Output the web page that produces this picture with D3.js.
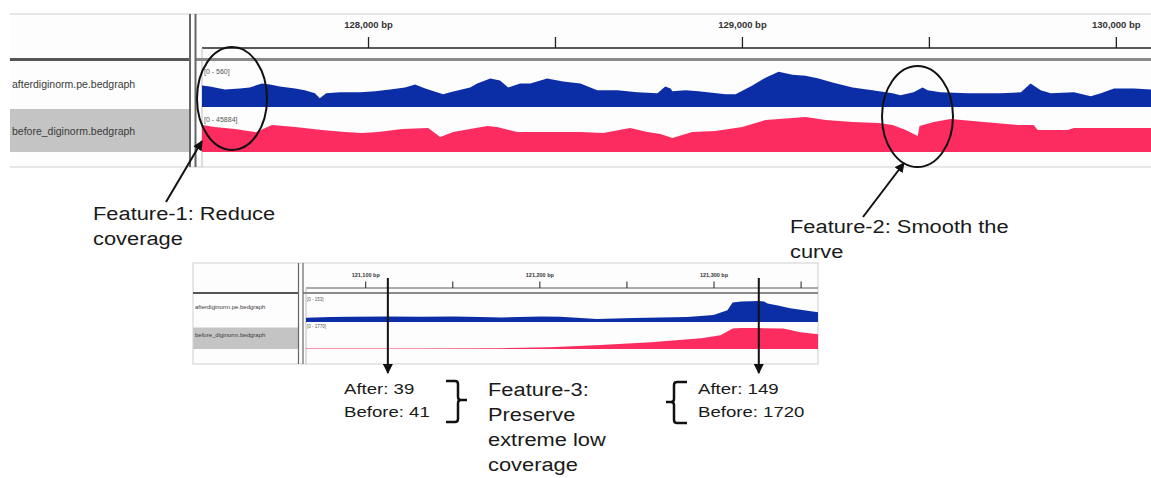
<!DOCTYPE html>
<html>
<head>
<meta charset="utf-8">
<script src="https://cdn.jsdelivr.net/npm/d3@7"></script>
<style>
  body { margin: 0; background: #fff; }
  svg { display: block; font-family: "Liberation Sans", Arial, sans-serif; }
</style>
</head>
<body>
<svg id="chart" width="1151" height="478"></svg>
<script>
// ---- data: [bp, coverage] ----
const trackNames = ['afterdiginorm.pe.bedgraph', 'before_diginorm.bedgraph'];

const topDomain = [127556, 130094];
const topTicks = [128000, 128500, 129000, 129500, 130000];
const topRanges = [560, 45884];
const afterTop = [
  [127556, 262], [127577, 250], [127617, 214], [127657, 226], [127684, 238], [127716, 286],
  [127738, 274], [127764, 250], [127805, 226], [127831, 203], [127858, 167], [127871, 107],
  [127888, 167], [127925, 179], [127979, 179], [128019, 191], [128059, 214], [128099, 238],
  [128126, 274], [128153, 226], [128201, 155], [128220, 179], [128273, 238], [128292, 286],
  [128327, 346], [128353, 322], [128375, 238], [128407, 286], [128434, 286], [128479, 346],
  [128522, 310], [128568, 286], [128613, 203], [128667, 203], [128720, 179], [128774, 167],
  [128795, 250], [128809, 226], [128814, 191], [128849, 203], [128884, 191], [128956, 155],
  [128983, 155], [129028, 262], [129063, 357], [129098, 429], [129135, 393], [129170, 381],
  [129205, 346], [129242, 298], [129296, 238], [129349, 203], [129403, 167], [129424, 143],
  [129459, 179], [129483, 238], [129497, 203], [129531, 179], [129604, 167], [129692, 167],
  [129746, 179], [129772, 286], [129799, 203], [129826, 167], [129888, 179], [129933, 131],
  [129960, 167], [129995, 226], [130048, 226], [130094, 214]
];
const beforeTop = [
  [127556, 28809], [127590, 26675], [127644, 24541], [127697, 21340], [127700, 21000],
  [127743, 28809], [127805, 26675], [127877, 23474], [127938, 21340], [127984, 20273],
  [128027, 21340], [128091, 24541], [128161, 25608], [128193, 16005], [128228, 21340],
  [128273, 24541], [128319, 27742], [128345, 26675], [128399, 21340], [128479, 21340],
  [128568, 21340], [128629, 20273], [128701, 25608], [128747, 21340], [128782, 19206],
  [128814, 14938], [128867, 21340], [128929, 22407], [129001, 26675], [129063, 34144],
  [129135, 36278], [129170, 37345], [129224, 34144], [129296, 32010], [129365, 30943],
  [129403, 28809], [129438, 23474], [129470, 17072], [129475, 27742], [129513, 32010],
  [129558, 35211], [129647, 32010], [129738, 28809], [129780, 28809], [129791, 23474],
  [129871, 23474], [129888, 25608], [129960, 25608], [130094, 25608]
];

const smallDomain = [121066, 121360];
const smallTicks = [121100, 121150, 121200, 121250, 121300, 121350];
const smallRanges = [153, 1770];
const afterSmall = [
  [121066, 30], [121080, 36], [121091, 38], [121113, 39], [121132, 37], [121151, 40],
  [121166, 35], [121178, 32], [121201, 40], [121212, 38], [121233, 22], [121254, 28],
  [121285, 35], [121300, 49], [121308, 83], [121311, 139], [121316, 146], [121326, 149],
  [121329, 146], [121331, 132], [121337, 118], [121344, 97], [121360, 70]
];
const beforeSmall = [
  [121066, 41], [121091, 41], [121113, 41], [121132, 41], [121178, 60], [121206, 150],
  [121235, 320], [121264, 560], [121293, 885], [121304, 1127], [121311, 1690], [121316, 1720],
  [121326, 1720], [121340, 1690], [121350, 1370], [121360, 1210]
];

const arrowMarks = [121113, 121326]; // After 39 / Before 41, After 149 / Before 1720

const BLUE = '#0b2ea6';
const PINK = '#fc2c61';

const svg = d3.select('#chart');
const defs = svg.append('defs');
defs.append('marker')
  .attr('id', 'head')
  .attr('viewBox', '0 0 10 10')
  .attr('refX', 9).attr('refY', 5)
  .attr('markerWidth', 5).attr('markerHeight', 5)
  .attr('orient', 'auto')
  .append('path').attr('d', 'M0,0L10,5L0,10z').attr('fill', '#111');

/**
 * Draws one IGV-like browser view (name panel, ruler, two bedgraph tracks)
 */
function igvPanel(p) {
  const g = svg.append('g');
  const x = d3.scaleLinear().domain(p.domain).range([p.dataLeft, p.right]);

  // backgrounds
  g.append('rect').attr('x', p.left).attr('y', p.top)
    .attr('width', p.right - p.left).attr('height', p.bottom - p.top).attr('fill', '#fdfdfd');
  g.append('rect').attr('x', p.left).attr('y', p.tracks[1].top - p.gap)
    .attr('width', p.nameRight - p.left).attr('height', p.tracks[1].base - p.tracks[1].top + p.gap)
    .attr('fill', '#c4c4c4');

  // frame
  if (p.box) {
    g.append('rect').attr('x', p.left).attr('y', p.top)
      .attr('width', p.right - p.left).attr('height', p.bottom - p.top)
      .attr('fill', 'none').attr('stroke', '#cfcfcf');
  } else {
    [p.top, p.bottom].forEach(yy => {
      g.append('line').attr('x1', p.left).attr('x2', p.right).attr('y1', yy).attr('y2', yy)
        .attr('stroke', '#cfcfcf').attr('stroke-width', 1.2);
    });
  }

  // ruler
  g.append('line').attr('x1', p.dataLeft).attr('x2', p.right)
    .attr('y1', p.rulerY).attr('y2', p.rulerY)
    .attr('stroke', '#5a5a5a').attr('stroke-width', p.rulerW);
  g.append('line').attr('x1', p.dataLeft).attr('x2', p.dataLeft)
    .attr('y1', p.rulerY).attr('y2', p.bottom).attr('stroke', '#bdbdbd');

  const fmt = d3.format(',');
  const axis = d3.axisTop(x).tickValues(p.ticks)
    .tickSize(p.tickLen).tickSizeOuter(0).tickPadding(p.tickPad)
    .tickFormat(d => d % p.labelEvery === 0 ? fmt(d) + ' bp' : '');
  const axg = g.append('g').attr('transform', `translate(0,${p.rulerY})`).call(axis);
  axg.select('.domain').remove();
  axg.attr('font-family', null).attr('font-size', null);
  axg.selectAll('line').attr('stroke', '#222').attr('stroke-width', p.tickW);
  axg.selectAll('text').attr('font-size', p.tickFont).attr('font-weight', 'bold').attr('fill', '#333');

  // header separator
  g.append('line').attr('x1', p.left).attr('x2', p.nameRight)
    .attr('y1', p.header).attr('y2', p.header).attr('stroke', '#555').attr('stroke-width', p.headerW);
  g.append('line').attr('x1', p.div2).attr('x2', p.right)
    .attr('y1', p.header).attr('y2', p.header).attr('stroke', '#8a8a8a').attr('stroke-width', p.headerW);

  // dividers between name panel and data panel
  [p.nameRight, p.div2].forEach(xx => {
    g.append('line').attr('x1', xx).attr('x2', xx).attr('y1', p.top).attr('y2', p.bottom)
      .attr('stroke', '#666').attr('stroke-width', p.divW);
  });

  // tracks
  const series = [p.after, p.before];
  const colors = [BLUE, PINK];
  series.forEach((data, i) => {
    const t = p.tracks[i];
    const y = d3.scaleLinear().domain([0, p.ranges[i]]).range([t.base, t.top]);
    const area = d3.area().x(d => x(d[0])).y0(t.base).y1(d => y(d[1]));
    g.append('path').datum(data).attr('d', area).attr('fill', colors[i]);
    g.append('text').attr('x', p.dataLeft + p.rangeDx).attr('y', t.top + p.rangeDy)
      .attr('font-size', p.rangeFont).attr('fill', '#555').text('[0 - ' + p.ranges[i] + ']');
    g.append('text').attr('x', p.left + p.nameDx).attr('y', p.nameY[i])
      .attr('font-size', p.nameFont).attr('fill', '#3a3a3a').text(trackNames[i]);
  });
  return x;
}

igvPanel({
  domain: topDomain, ticks: topTicks, labelEvery: 1000, ranges: topRanges,
  after: afterTop, before: beforeTop,
  left: 10, right: 1151, top: 14, bottom: 167, box: false,
  nameRight: 190, div2: 195.5, dataLeft: 202,
  rulerY: 48, rulerW: 2, tickLen: 11, tickPad: 9, tickW: 1.3, tickFont: 9.5,
  header: 59.5, headerW: 3, divW: 2,
  tracks: [{ top: 61, base: 107 }, { top: 109, base: 152 }], gap: 0,
  rangeFont: 7, rangeDx: 2, rangeDy: 13,
  nameFont: 10.5, nameDx: 2, nameY: [88, 135]
});

const xs = igvPanel({
  domain: smallDomain, ticks: smallTicks, labelEvery: 100, ranges: smallRanges,
  after: afterSmall, before: beforeSmall,
  left: 193, right: 818, top: 263, bottom: 364, box: true,
  nameRight: 298.5, div2: 303, dataLeft: 306,
  rulerY: 288, rulerW: 1, tickLen: 6.5, tickPad: 4.5, tickW: 1, tickFont: 5.5,
  header: 293, headerW: 2, divW: 1.2,
  tracks: [{ top: 300.5, base: 322 }, { top: 327.5, base: 349 }], gap: 0,
  rangeFont: 4.5, rangeDx: 1, rangeDy: 0.5,
  nameFont: 6, nameDx: 2, nameY: [309, 337]
});

// ---- annotations ----
const ann = svg.append('g').attr('fill', 'none').attr('stroke', '#111');
ann.append('ellipse').attr('cx', 232).attr('cy', 98.5).attr('rx', 35).attr('ry', 51.5).attr('stroke-width', 2);
ann.append('ellipse').attr('cx', 917.5).attr('cy', 116.5).attr('rx', 35.5).attr('ry', 50.5).attr('stroke-width', 2);

ann.append('line').attr('x1', 166).attr('y1', 202).attr('x2', 202).attr('y2', 141)
  .attr('stroke-width', 2).attr('marker-end', 'url(#head)');
ann.append('line').attr('x1', 863).attr('y1', 217).attr('x2', 904).attr('y2', 163)
  .attr('stroke-width', 2).attr('marker-end', 'url(#head)');

arrowMarks.forEach(bp => {
  ann.append('line').attr('x1', xs(bp)).attr('x2', xs(bp)).attr('y1', 278).attr('y2', 373)
    .attr('stroke-width', 2).attr('marker-end', 'url(#head)');
});

// braces
ann.append('path').attr('stroke-width', 2.5)
  .attr('d', 'M446,381 L455,381 Q458,381 458,384 L458,397 Q458,400 461,400 L467,400 M461,400 Q458,400 458,403 L458,419 Q458,422 455,422 L446,422');
ann.append('path').attr('stroke-width', 2.5)
  .attr('d', 'M687,382 L677,382 Q674,382 674,385 L674,399 Q674,402 671,402 L666,402 M671,402 Q674,402 674,405 L674,420 Q674,423 677,423 L687,423');

function label(x0, y0, lines, size, lh, sx) {
  const t = svg.append('text')
    .attr('transform', `translate(${x0},${y0}) scale(${sx},1)`)
    .attr('font-size', size).attr('fill', '#1a1a1a');
  lines.forEach((s, i) => {
    t.append('tspan').attr('x', 0).attr('y', i * lh).text(s);
  });
}

label(93, 220, ['Feature-1: Reduce', 'coverage'], 19, 25, 1.15);
label(790, 233, ['Feature-2: Smooth the', 'curve'], 19, 25, 1.15);
label(488, 396, ['Feature-3:', 'Preserve', 'extreme low', 'coverage'], 19, 25, 1.15);
label(344, 394, ['After: 39', 'Before: 41'], 15.5, 23, 1.2);
label(698, 394, ['After: 149', 'Before: 1720'], 15.5, 23, 1.2);
</script>
</body>
</html>
